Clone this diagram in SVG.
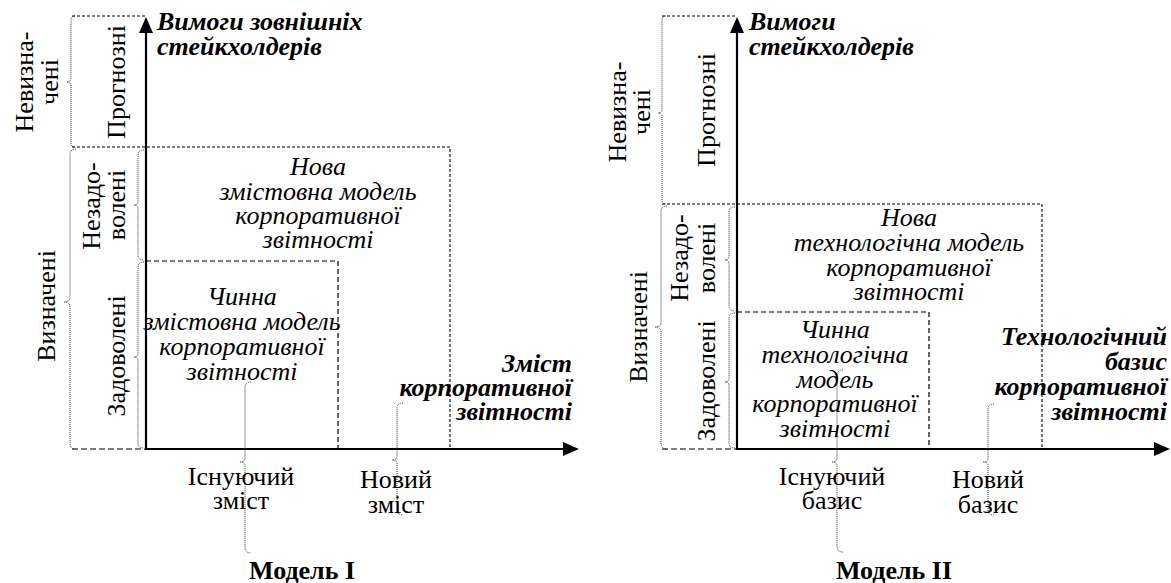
<svg xmlns="http://www.w3.org/2000/svg" width="1171" height="583" viewBox="0 0 1171 583">
<style>
text{font-family:"Liberation Serif","Times New Roman",serif;fill:#000}
.r{font-size:26px}
.i{font-size:26px;font-style:italic}
.bi{font-size:26px;font-style:italic;font-weight:bold}
.b{font-size:26px;font-weight:bold}
.m{text-anchor:middle}
.e{text-anchor:end}
.axis{stroke:#000;stroke-width:2.2;fill:none;marker-end:url(#ah)}
.outer{stroke:#000;stroke-width:1.1;stroke-dasharray:3 2;fill:none}
.inner{stroke:#000;stroke-width:1.2;stroke-dasharray:5 3;fill:none}
.edge{stroke:#000;stroke-width:1.1;stroke-dasharray:6 3;fill:none}
.brace{stroke:#333;stroke-width:1;stroke-dasharray:1 1;fill:none}
</style>
<defs>
<marker id="ah" markerUnits="userSpaceOnUse" markerWidth="16" markerHeight="14" viewBox="0 0 16 14" refX="0" refY="7" orient="auto">
<path d="M0,0 L16,7 L0,14 Z" fill="#000"/>
</marker>
</defs>

<g id="connectors">
<path class="axis" d="M146,450 V33"/>
<path class="axis" d="M145,449 H563"/>
<path class="axis" d="M737,450 V33"/>
<path class="axis" d="M736,449 H1154"/>
<path class="brace" d="M75,16 Q71,16 71,20 V78 Q71,82 67,82 Q71,82 71,86 V143 Q71,147 75,147"/>
<path class="brace" d="M76,149 Q70,149 70,155 V297 Q70,302 64,302 Q70,302 70,307 V443 Q70,449 76,449"/>
<path class="brace" d="M144,150 Q138,150 138,155 V201 Q138,205 134,205 Q138,205 138,209 V255 Q138,260 144,260"/>
<path class="brace" d="M144,262 Q138,262 138,267 V353 Q138,357 134,357 Q138,357 138,361 V443 Q138,448 144,448"/>
<path class="brace" d="M251,382 Q245,382 245,388 V458 Q245,462 240,462 Q245,462 245,466 V547 Q245,553 251,553"/>
<path class="brace" d="M403,403 Q397,403 397,408 V456 Q397,460 392,460 Q397,460 397,464 V510 Q397,515 403,515"/>
<path class="brace" d="M666,16 Q662,16 662,20 V109 Q662,113 658,113 Q662,113 662,117 V200 Q662,204 666,204"/>
<path class="brace" d="M667,206 Q661,206 661,212 V322 Q661,327 655,327 Q661,327 661,332 V443 Q661,449 667,449"/>
<path class="brace" d="M735,207 Q729,207 729,212 V256 Q729,260 725,260 Q729,260 729,264 V306 Q729,311 735,311"/>
<path class="brace" d="M735,313 Q729,313 729,318 V378 Q729,382 725,382 Q729,382 729,386 V443 Q729,448 735,448"/>
<path class="brace" d="M843,370 Q837,370 837,376 V458 Q837,462 832,462 Q837,462 837,466 V546 Q837,552 843,552"/>
<path class="brace" d="M994,404 Q988,404 988,409 V458 Q988,462 983,462 Q988,462 988,466 V510 Q988,515 994,515"/>
</g>

<g id="m1-frame">
<path class="outer" d="M72,16 H146"/>
<path class="edge" d="M72,449 H146"/>
</g>
<g id="m1-new-model">
<path class="outer" d="M72,147 H450 V449"/>
<text class="i m" x="318" y="175">Нова</text>
<text class="i m" x="318" y="200">змістовна модель</text>
<text class="i m" x="318" y="224">корпоративної</text>
<text class="i m" x="318" y="248">звітності</text>
</g>
<g id="m1-current-model">
<path class="inner" d="M146,261 H338 V449"/>
<text class="i m" x="242" y="305">Чинна</text>
<text class="i m" x="242" y="330">змістовна модель</text>
<text class="i m" x="242" y="355">корпоративної</text>
<text class="i m" x="242" y="380">звітності</text>
</g>
<g id="m1-y-label">
<text class="bi" x="157" y="30">Вимоги зовнішніх</text>
<text class="bi" x="157" y="55">стейкхолдерів</text>
</g>
<g id="m1-x-label">
<text class="bi e" x="572" y="372">Зміст</text>
<text class="bi e" x="572" y="396">корпоративної</text>
<text class="bi e" x="572" y="420">звітності</text>
</g>
<g id="m1-undefined">
<text class="r m" transform="translate(33,82) rotate(-90)">Невизна-</text>
<text class="r m" transform="translate(58,82) rotate(-90)">чені</text>
</g>
<g id="m1-forecast"><text class="r m" transform="translate(125,82) rotate(-90)">Прогнозні</text></g>
<g id="m1-defined"><text class="r m" transform="translate(55,306) rotate(-90)">Визначені</text></g>
<g id="m1-unsatisfied">
<text class="r m" transform="translate(100,206) rotate(-90)">Незадо-</text>
<text class="r m" transform="translate(125,205) rotate(-90)">волені</text>
</g>
<g id="m1-satisfied"><text class="r m" transform="translate(125,356) rotate(-90)">Задоволені</text></g>
<g id="m1-existing">
<text class="r m" x="241" y="485">Існуючий</text>
<text class="r m" x="241" y="509">зміст</text>
</g>
<g id="m1-new">
<text class="r m" x="396" y="488">Новий</text>
<text class="r m" x="396" y="513">зміст</text>
</g>
<g id="m1-title"><text class="b m" x="302" y="579">Модель I</text></g>

<g id="m2-frame">
<path class="outer" d="M662,16 H737"/>
<path class="edge" d="M662,449 H737"/>
</g>
<g id="m2-new-model">
<path class="outer" d="M662,204 H1042 V449"/>
<text class="i m" x="909" y="226">Нова</text>
<text class="i m" x="909" y="251">технологічна модель</text>
<text class="i m" x="909" y="276">корпоративної</text>
<text class="i m" x="909" y="300">звітності</text>
</g>
<g id="m2-current-model">
<path class="inner" d="M737,312 H929 V449"/>
<text class="i m" x="835" y="338">Чинна</text>
<text class="i m" x="835" y="363">технологічна</text>
<text class="i m" x="835" y="388">модель</text>
<text class="i m" x="835" y="412">корпоративної</text>
<text class="i m" x="835" y="437">звітності</text>
</g>
<g id="m2-y-label">
<text class="bi" x="749" y="30">Вимоги</text>
<text class="bi" x="749" y="55">стейкхолдерів</text>
</g>
<g id="m2-x-label">
<text class="bi e" x="1167" y="345">Технологічний</text>
<text class="bi e" x="1167" y="370">базис</text>
<text class="bi e" x="1167" y="395">корпоративної</text>
<text class="bi e" x="1167" y="420">звітності</text>
</g>
<g id="m2-undefined">
<text class="r m" transform="translate(626,112) rotate(-90)">Невизна-</text>
<text class="r m" transform="translate(650,112) rotate(-90)">чені</text>
</g>
<g id="m2-forecast"><text class="r m" transform="translate(715,110) rotate(-90)">Прогнозні</text></g>
<g id="m2-defined"><text class="r m" transform="translate(647,327) rotate(-90)">Визначені</text></g>
<g id="m2-unsatisfied">
<text class="r m" transform="translate(688,258) rotate(-90)">Незадо-</text>
<text class="r m" transform="translate(715,258) rotate(-90)">волені</text>
</g>
<g id="m2-satisfied"><text class="r m" transform="translate(715,381) rotate(-90)">Задоволені</text></g>
<g id="m2-existing">
<text class="r m" x="832" y="485">Існуючий</text>
<text class="r m" x="832" y="509">базис</text>
</g>
<g id="m2-new">
<text class="r m" x="988" y="488">Новий</text>
<text class="r m" x="988" y="513">базис</text>
</g>
<g id="m2-title"><text class="b m" x="894" y="579">Модель II</text></g>
</svg>
